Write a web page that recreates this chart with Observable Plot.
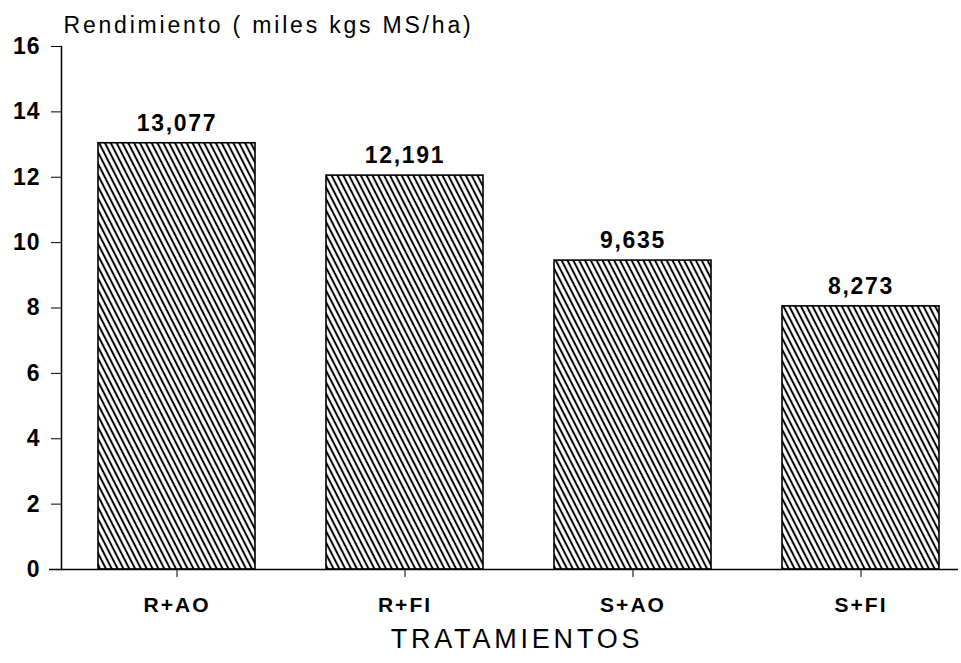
<!DOCTYPE html>
<html><head><meta charset="utf-8">
<script src="https://cdn.jsdelivr.net/npm/d3@7"></script>
<script src="https://cdn.jsdelivr.net/npm/@observablehq/plot@0.6"></script>
<style>
body{margin:0;background:#fff}
#chart svg{font-family:"Liberation Sans",Arial,sans-serif}
g[aria-label="x-axis tick label"] text{letter-spacing:2px}
g[aria-label="y-axis tick label"] text{letter-spacing:1px}
</style>
</head><body><div id="chart"></div>
<script>
const categories = ["R+AO","R+FI","S+AO","S+FI"];
const barHeights = [13.04, 12.05, 9.45, 8.05];
const valueLabels = ["13,077","12,191","9,635","8,273"];
const yTicks = [0,2,4,6,8,10,12,14,16];
const yTitle = "Rendimiento ( miles kgs MS/ha)";
const xTitle = "TRATAMIENTOS";

const data = categories.map((c,i)=>({cat:c, h:barHeights[i], label:valueLabels[i]}));

const defs = () => {
  const d = d3.create("svg:defs");
  const p = d.append("pattern").attr("id","hatch").attr("patternUnits","userSpaceOnUse")
    .attr("width",5.2).attr("height",10).attr("patternTransform","rotate(-27)");
  p.append("rect").attr("width",5.2).attr("height",10).attr("fill","white");
  p.append("line").attr("x1",2.6).attr("x2",2.6).attr("y1",-1).attr("y2",11)
    .attr("stroke","black").attr("stroke-width",2);
  return d.node();
};

const chart = Plot.plot({
  width:961, height:663, marginTop:46, marginBottom:94, marginLeft:61, marginRight:3,
  style:{fontFamily:'"Liberation Sans",Arial,sans-serif', color:"#000", background:"white"},
  x:{domain:categories, range:[62,975], paddingInner:0.31, paddingOuter:0.155, label:null},
  y:{domain:[0,16], label:null},
  marks:[
    defs,
    Plot.barY(data,{x:"cat", y:"h", fill:"url(#hatch)", stroke:"black", strokeWidth:1.6}),
    Plot.ruleY([0],{insetLeft:-12, strokeWidth:1.5}),
    Plot.frame({anchor:"left", strokeWidth:1.5}),
    Plot.axisY({ticks:yTicks, tickSize:10, tickPadding:11, fontSize:23, fontWeight:"bold", label:null}),
    Plot.axisX({tickSize:8, tickPadding:20, fontSize:21, fontWeight:"bold", label:null}),
    Plot.text(data,{x:"cat", y:"h", text:"label", dy:-20, lineAnchor:"middle", fontSize:23, fontWeight:"bold"}),
    Plot.text([yTitle],{text:d=>d, frameAnchor:"top-left", textAnchor:"start", lineAnchor:"middle", dx:2, dy:-21, fontSize:23}),
    Plot.text([xTitle],{text:d=>d, frameAnchor:"bottom", lineAnchor:"middle", dy:70, dx:7, fontSize:27})
  ]
});
d3.select(chart).selectAll("text").each(function(){
  const t = this.textContent;
  if (valueLabels.includes(t)) this.style.letterSpacing = "1.7px";
  else if (t === yTitle) this.style.letterSpacing = "2.8px";
  else if (t === xTitle) this.style.letterSpacing = "3.8px";
});
document.getElementById("chart").appendChild(chart);
</script>
</body></html>
